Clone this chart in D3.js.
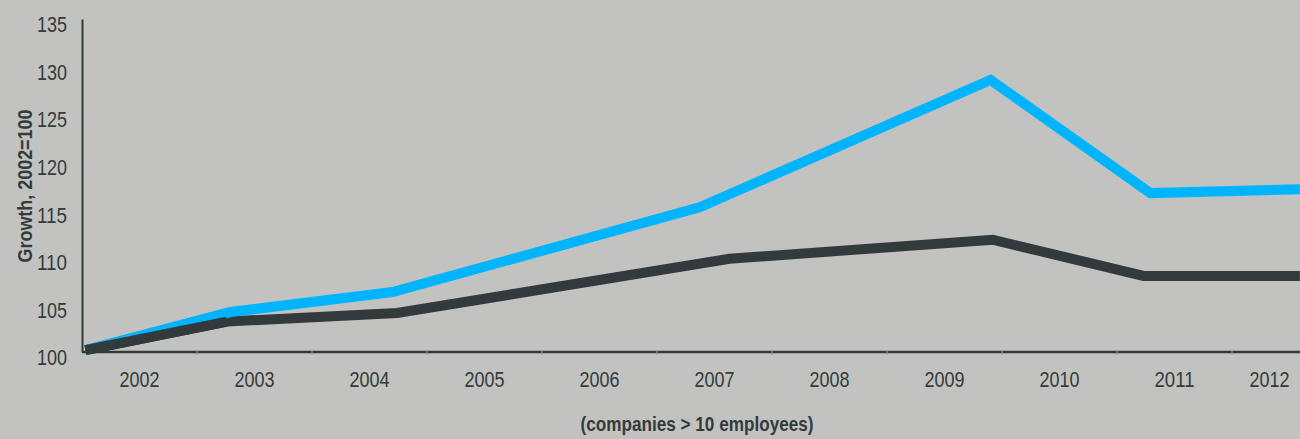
<!DOCTYPE html>
<html>
<head>
<meta charset="utf-8">
<script src="https://cdn.jsdelivr.net/npm/d3@7"></script>
<style>
  html, body { margin: 0; padding: 0; background: #c2c3c1; overflow: hidden; }
  text { font-family: "Liberation Sans", Arial, sans-serif; fill: #333b3b; }
</style>
</head>
<body>
<div id="graph"></div>
<script>
var width = 1300;
var height = 439;

// x axis categories
var years = [2002, 2003, 2004, 2005, 2006, 2007, 2008, 2009, 2010, 2011, 2012];
var yTicks = [100, 105, 110, 115, 120, 125, 130, 135];

// blue series (x in year units)
var blueYears = [2001.53, 2002.79, 2004.2, 2006.87, 2009.4, 2010.79, 2012.09];
var blueValues = [100.2, 104.2, 106.3, 115.2, 128.6, 116.7, 117.1];

// dark series
var darkYears = [2001.53, 2002.76, 2004.24, 2007.13, 2009.42, 2010.73, 2012.09];
var darkValues = [100.2, 103.2, 104.1, 109.8, 111.8, 108.0, 108.0];

var svg = d3.select("#graph").append("svg")
  .attr("width", width)
  .attr("height", height);

// band scale for the year labels
var band = d3.scaleBand()
  .domain(years)
  .range([82, 82 + 115 * years.length]);

// linear scale in years for the lines, lined up with band centres
var x = d3.scaleLinear()
  .domain([2002, 2012])
  .range([band(2002) + band.bandwidth() / 2, band(2012) + band.bandwidth() / 2]);

var y = d3.scaleLinear()
  .domain([100, 135])
  .range([352, 19]);

// narrow look: squeeze the glyphs to ~10px per digit
function narrow(sel, perChar) {
  sel.each(function() {
    var t = d3.select(this);
    t.attr("textLength", t.text().length * perChar)
      .attr("lengthAdjust", "spacingAndGlyphs");
  });
}

//y axis: plain line, labels only
var yAxis = svg.append("g")
  .attr("transform", "translate(82,0)")
  .call(d3.axisLeft(y).tickValues(yTicks).tickSize(0).tickPadding(15));
yAxis.attr("font-family", null).attr("font-size", null);
yAxis.select(".domain").attr("stroke", "#323a3b").attr("stroke-width", 2);
yAxis.selectAll("text")
  .attr("font-size", 22)
  .attr("dy", "0.58em")
  .call(narrow, 10);

//x axis with ticks on band edges
var xAxis = svg.append("g")
  .attr("transform", "translate(0,352)");
xAxis.append("line")
  .attr("x1", 82).attr("x2", width)
  .attr("stroke", "#323a3b").attr("stroke-width", 2.5);
xAxis.selectAll(".tick")
  .data(years.slice(1))
  .enter().append("line")
  .attr("x1", function(d) { return band(d); })
  .attr("x2", function(d) { return band(d); })
  .attr("y1", -1).attr("y2", 3)
  .attr("stroke", "#9a9c9a").attr("stroke-width", 1);
xAxis.selectAll(".lbl")
  .data(years)
  .enter().append("text")
  .attr("x", function(d, i) {
    var c = band(d) + band.bandwidth() / 2;
    return i === years.length - 1 ? c - 20 : c;
  })
  .attr("y", 35)
  .attr("text-anchor", "middle")
  .attr("font-size", 22)
  .text(function(d) { return d; })
  .call(narrow, 10);

//lines
var line = d3.line()
  .x(function(d) { return x(d[0]); })
  .y(function(d) { return y(d[1]); });

svg.append("path")
  .datum(d3.zip(darkYears, darkValues))
  .attr("d", line)
  .attr("fill", "none")
  .attr("stroke", "#323a3b")
  .attr("stroke-width", 10)
  .attr("stroke-linejoin", "miter");

svg.append("path")
  .datum(d3.zip(blueYears, blueValues))
  .attr("d", line)
  .attr("fill", "none")
  .attr("stroke", "#00b4ff")
  .attr("stroke-width", 10)
  .attr("stroke-linejoin", "miter");

// dark line drawn over blue at the start where they overlap
svg.append("path")
  .datum(d3.zip(darkYears, darkValues).slice(0, 2))
  .attr("d", line)
  .attr("fill", "none")
  .attr("stroke", "#323a3b")
  .attr("stroke-width", 10);

//titles
svg.append("text")
  .attr("transform", "translate(32,186) rotate(-90)")
  .attr("text-anchor", "middle")
  .attr("font-size", 21)
  .attr("font-weight", "bold")
  .attr("textLength", 153)
  .attr("lengthAdjust", "spacingAndGlyphs")
  .text("Growth, 2002=100");

svg.append("text")
  .attr("x", 697)
  .attr("y", 431)
  .attr("text-anchor", "middle")
  .attr("font-size", 21)
  .attr("font-weight", "bold")
  .attr("textLength", 233)
  .attr("lengthAdjust", "spacingAndGlyphs")
  .text("(companies > 10 employees)");
</script>
</body>
</html>
